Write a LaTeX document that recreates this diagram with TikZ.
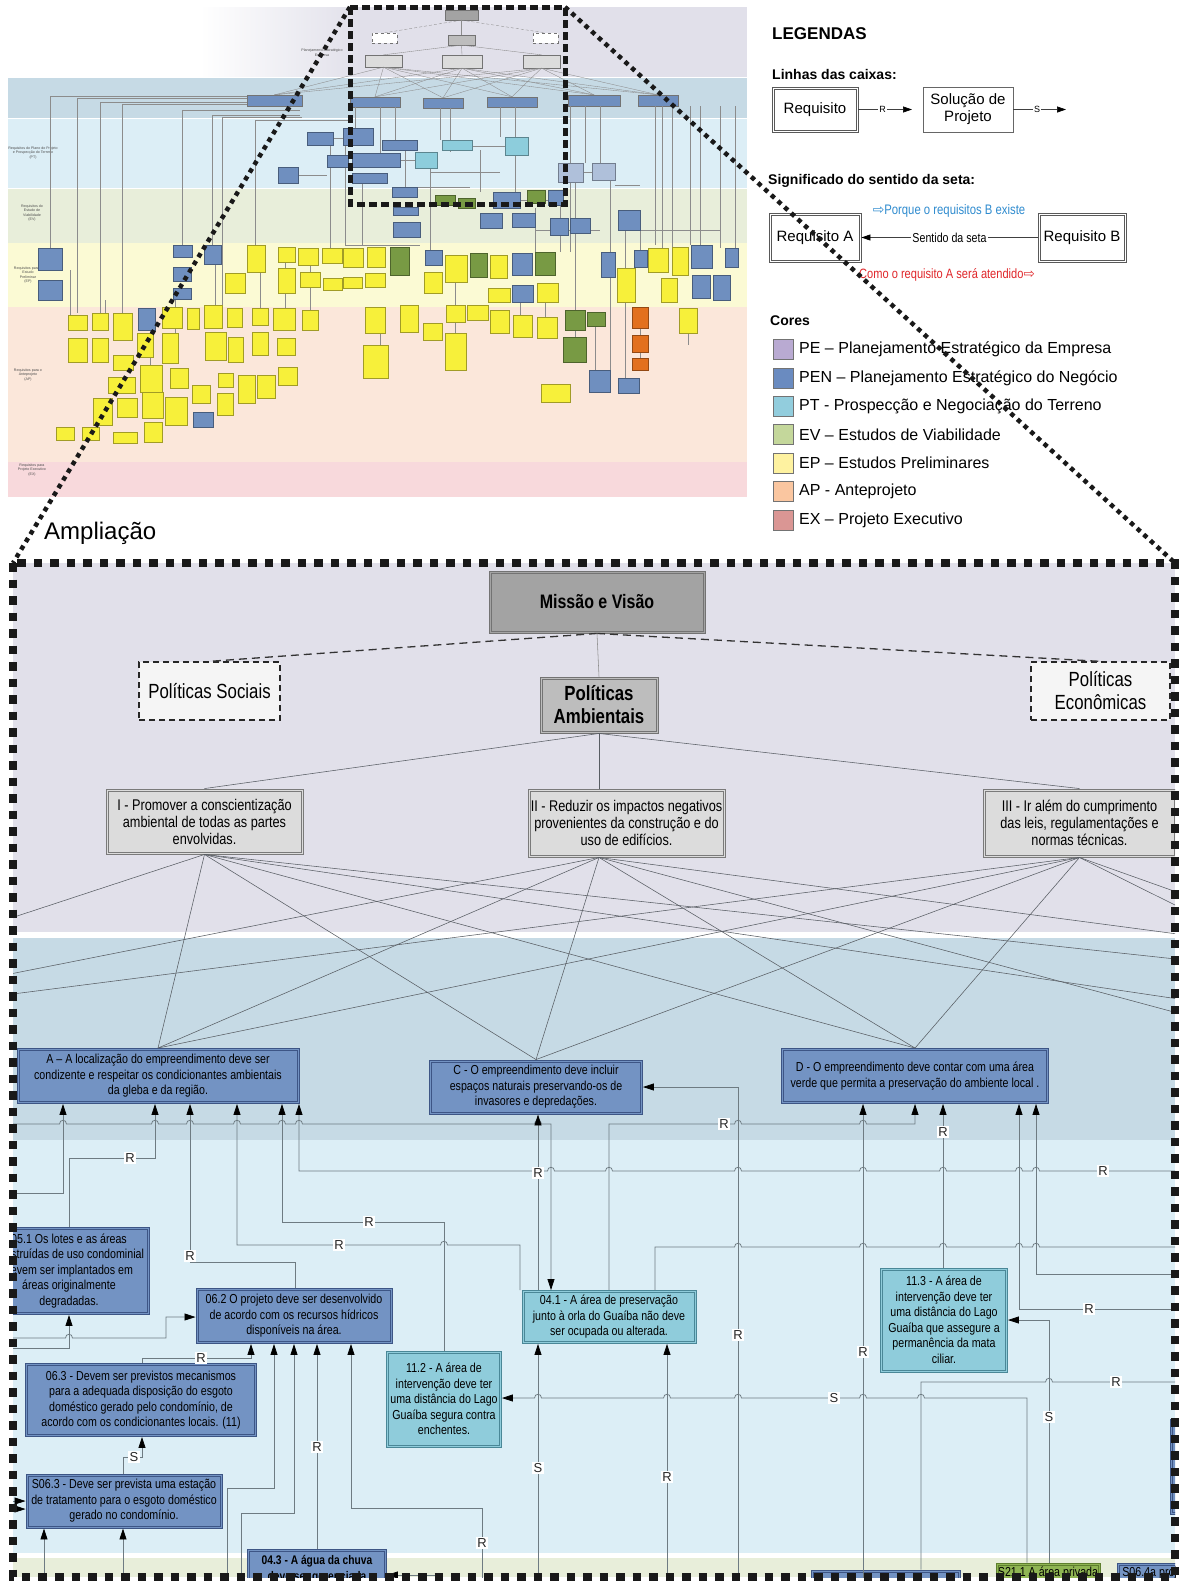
\documentclass[tikz,border=0pt]{standalone}
\usepackage{fontspec}
\setmainfont{Liberation Sans}
\newfontfamily\cnd[FakeStretch=0.82]{Liberation Sans}
\newfontfamily\symf{DejaVu Sans}
\usetikzlibrary{arrows.meta}

\definecolor{bandPE}{HTML}{E1E0EA}
\definecolor{bandPEN}{HTML}{C6DAE5}
\definecolor{bandPT}{HTML}{DCEEF6}
\definecolor{bandEV}{HTML}{E8EEDA}
\definecolor{bandEP}{HTML}{FBFAD4}
\definecolor{bandAP}{HTML}{FBE7DA}
\definecolor{bandEX}{HTML}{F8D9DC}
\definecolor{penfill}{HTML}{7393C3}
\definecolor{penline}{HTML}{3D5585}
\definecolor{ptfill}{HTML}{8FCCDB}
\definecolor{ptline}{HTML}{4A8797}
\definecolor{evfill}{HTML}{8FB553}
\definecolor{evline}{HTML}{5E7F2E}
\definecolor{objfill}{HTML}{DCDCDC}
\definecolor{objline}{HTML}{7A7A7A}
\definecolor{polfill}{HTML}{BDBDBD}
\definecolor{misfill}{HTML}{A3A3A3}
\definecolor{connc}{HTML}{6E7B82}
\definecolor{webc}{HTML}{585D63}
\definecolor{swPE}{HTML}{B9AAD2}
\definecolor{swPEN}{HTML}{6A8BC0}
\definecolor{swPT}{HTML}{92CDDD}
\definecolor{swEV}{HTML}{C4D79B}
\definecolor{swEP}{HTML}{FEF2A0}
\definecolor{swAP}{HTML}{FAC6A0}
\definecolor{swEX}{HTML}{DA9694}
\definecolor{tyel}{HTML}{F7F03A}
\definecolor{tblu}{HTML}{6F8FBF}
\definecolor{tgrn}{HTML}{789A44}
\definecolor{tora}{HTML}{E2701E}
\definecolor{tteal}{HTML}{8DCDDC}
\definecolor{tpale}{HTML}{AFC0DA}
\definecolor{whyc}{HTML}{2E8BCF}
\definecolor{howc}{HTML}{E0262A}

% small line jumps on horizontal connectors
\newcommand\hopR[2]{-- ({#1-3.5},#2) .. controls +(0,-5) and +(0,-5) .. ({#1+3.5},#2)}
\newcommand\hopL[2]{-- ({#1+3.5},#2) .. controls +(0,-5) and +(0,-5) .. ({#1-3.5},#2)}
% inner line of a double frame
\newcommand\innerframe[2]{\draw[#1,line width=0.7pt] ([xshift=2.4pt,yshift=-2.4pt]#2.north west) rectangle ([xshift=-2.4pt,yshift=2.4pt]#2.south east);}

\begin{document}
\begin{tikzpicture}[x=1pt,y=-1pt,
  boxbase/.style={align=center,inner sep=0pt,text=black,line width=0.9pt},
  penbox/.style={boxbase,fill=penfill,draw=penline,font=\cnd\fontsize{13}{15.5}\selectfont},
  ptbox/.style={boxbase,fill=ptfill,draw=ptline,font=\cnd\fontsize{13}{15.5}\selectfont},
  evbox/.style={boxbase,fill=evfill,draw=evline,font=\cnd\fontsize{13}{15.5}\selectfont},
  objbox/.style={boxbase,fill=objfill,draw=objline,font=\cnd\fontsize{15.5}{17}\selectfont},
  polbox/.style={boxbase,fill=polfill,draw=black!55,font=\cnd\bfseries\fontsize{20.5}{23}\selectfont},
  misbox/.style={boxbase,fill=misfill,draw=black!55,font=\cnd\bfseries\fontsize{19.5}{22}\selectfont},
  socbox/.style={align=center,inner sep=0pt,fill=black!4,draw=black!85,line width=1.3pt,dash pattern=on 6pt off 4pt,font=\cnd\fontsize{20.5}{23}\selectfont},
  webl/.style={draw=webc,line width=0.55pt},
  cn/.style={draw=connc,line width=0.75pt},
  ar/.style={cn,-{Triangle[length=11pt,width=7pt,color=black]}},
  lab/.style={fill=white,inner sep=1.2pt,font=\fontsize{13}{13}\selectfont,text=black!85},
  tn/.style={draw=black!55,line width=0.3pt,inner sep=0pt},
  tl/.style={draw=black!45,line width=0.35pt},
  tlab/.style={align=center,inner sep=0pt,text=black!70,font=\fontsize{3.6}{4.2}\selectfont},
  lgreq/.style={align=center,inner sep=0pt,fill=white,draw=black!65,line width=0.8pt,font=\fontsize{15}{17}\selectfont},
  lgsol/.style={align=center,inner sep=0pt,fill=white,draw=black!60,line width=0.8pt,font=\fontsize{15}{17}\selectfont},
  lgar/.style={draw=black!75,line width=0.7pt,-{Triangle[length=9pt,width=6pt,color=black]}},
  lgl/.style={fill=white,inner sep=0.8pt,font=\fontsize{9}{9}\selectfont},
  hd/.style={anchor=west,inner sep=0pt,font=\bfseries\fontsize{14}{14}\selectfont},
]
\useasboundingbox (0,0) rectangle (1187,1585);
\fill[white] (0,0) rectangle (1187,1585);

% ================= overview sheet =================
\fill[white] (8,7) rectangle (200,76.5);
\shade[left color=white,right color=bandPE] (200,7) rectangle (360,76.5);
\fill[bandPE] (360,7) rectangle (747,76.5);
\fill[bandPEN] (8,77.5) rectangle (747,118);
\fill[bandPT] (8,119) rectangle (747,187.5);
\fill[bandEV] (8,188.5) rectangle (747,243);
\fill[bandEP] (8,243) rectangle (747,307);
\fill[bandAP] (8,307) rectangle (747,462);
\fill[bandEX] (8,462) rectangle (747,497);

% phase names at the left of the sheet
\node[tlab] (tlPE) at (322,53) {Planejamento Estratégico\\Empresa};
\node[tlab] (tlPT) at (33,153) {Requisitos do Plano do Projeto\\e Prospecção do Terreno\\(PT)};
\node[tlab] (tlEV) at (32,213) {Requisitos do\\Estudo de\\Viabilidade\\(EV)};
\node[tlab] (tlEP) at (28,275) {Requisitos para o\\Estudo\\Preliminar\\(EP)};
\node[tlab] (tlAP) at (28,375) {Requisitos para o\\Anteprojeto\\(AP)};
\node[tlab] (tlEX) at (32,470) {Requisitos para\\Projeto Executivo\\(EX)};

% strategic tree of the sheet
\node[tn,fill=misfill,minimum width=33,minimum height=10] (tMis) at (461.5,15) {};
\node[tn,fill=white,dashed,minimum width=25,minimum height=10] (tSoc) at (384.5,38) {};
\node[tn,fill=polfill,minimum width=27,minimum height=10] (tAmb) at (461.5,40) {};
\node[tn,fill=white,dashed,minimum width=25,minimum height=10] (tEco) at (545.5,38) {};
\node[tn,fill=objfill,minimum width=37,minimum height=12] (tI) at (383.5,61) {};
\node[tn,fill=objfill,minimum width=40,minimum height=13] (tII) at (462,61.5) {};
\node[tn,fill=objfill,minimum width=37,minimum height=13] (tIII) at (541.5,61.5) {};
\node[tn,fill=tblu,minimum width=55,minimum height=11] (tG) at (274.5,100.5) {};
\node[tn,fill=tblu,minimum width=50,minimum height=10] (tA) at (375,102) {};
\node[tn,fill=tblu,minimum width=40,minimum height=10] (tC) at (443,103) {};
\node[tn,fill=tblu,minimum width=50,minimum height=10] (tD) at (512,102) {};
\node[tn,fill=tblu,minimum width=52,minimum height=11] (tE) at (594,100.5) {};
\node[tn,fill=tblu,minimum width=40,minimum height=11] (tF) at (658,100.5) {};
\draw[tl,densely dashed] (tMis.south) -- (tSoc.north);
\draw[tl,densely dashed] (tMis.south) -- (tEco.north);
\draw[tl] (tMis.south) -- (tAmb.north);
\foreach \t in {tI,tII,tIII} \draw[tl] (tAmb.south) -- (\t.north);
\foreach \s in {tI,tII,tIII} \foreach \t in {tG,tA,tC,tD,tE,tF} \draw[tl] (\s.south) -- (\t.north);

% connectors of the sheet
\foreach \x/\ya/\yb in {50/96/248,77/98/313,100/103/313,122/105/313,182/110/245,212/115/245,222/117/305,255/120/245,
  355/107/128,380/107/153,395/107/140,440/108/140,450/108/152,500/107/137,515/107/192,570/106/252,585/106/163,
  600/106/163,655/106/245,662/106/250,672/106/247,690/106/245,700/106/245,720/106/248,735/106/248,
  330/145/248,345/145/245,362/183/245,405/150/187,430/168/250,480/150/192,535/208/255,560/205/252,
  575/182/317,610/180/370,625/230/378,640/230/252,70/270/315,105/300/313,150/330/365,175/300/333,
  215/264/305,260/272/308,285/262/308,310/265/310,380/333/345,455/282/333,520/302/315,545/302/317,
  575/330/337,595/326/370,640/328/335,640/352/358,688/333/345}
  \draw[tl] (\x,\ya) -- (\x,\yb);
\foreach \xa/\xb/\y in {50/247/96,77/247/98,100/247/102,122/247/104,182/300/110,212/300/115,222/302/117,255/350/120,
  333/343/138,298/327/175,400/415/160,472/505/146,520/548/200,583/592/172,615/640/185,535/600/230,
  405/470/187,430/500/172,640/720/230,345/420/245}
  \draw[tl] (\xa,\y) -- (\xb,\y);

% requirement boxes of the sheet
\foreach \a/\b/\c/\d/\f in {
 307/132/333/145/tblu,343/128/373/145/tblu,278/167/298/183/tblu,327/155/348/167/tblu,352/153/400/167/tblu,
 352/173/387/183/tblu,382/140/417/150/tblu,415/152/437/168/tteal,442/140/472/150/tteal,505/137/528/155/tteal,
 558/163/583/182/tpale,592/163/615/180/tpale,
 392/187/417/197/tblu,393/207/418/215/tblu,393/222/420/237/tblu,435/195/455/205/tgrn,458/198/475/208/tgrn,
 493/192/520/208/tblu,527/190/545/203/tgrn,548/190/563/205/tblu,480/213/502/228/tblu,512/213/535/227/tblu,
 550/218/568/235/tblu,570/218/590/233/tblu,618/210/640/230/tblu,
 38/248/62/270/tblu,38/280/62/300/tblu,173/245/192/257/tblu,204/245/221/264/tblu,173/267/191/281/tblu,
 173/288/191/299/tblu,247/245/265/272/tyel,278/247/295/262/tyel,298/248/318/265/tyel,322/248/342/263/tyel,
 343/248/363/267/tyel,367/247/385/267/tyel,390/247/409/275/tgrn,225/273/245/293/tyel,278/268/295/293/tyel,
 300/272/320/287/tyel,323/278/342/290/tyel,343/277/362/288/tyel,365/273/385/287/tyel,
 425/250/442/265/tblu,424/272/442/293/tyel,445/255/467/282/tyel,470/253/487/277/tgrn,490/255/507/278/tyel,
 512/253/532/275/tblu,535/252/555/275/tgrn,488/288/510/302/tyel,512/285/533/302/tblu,537/283/558/302/tyel,
 601/252/615/277/tblu,617/268/635/302/tyel,634/250/647/267/tblu,648/248/668/272/tyel,661/278/677/302/tyel,
 672/247/688/275/tyel,691/245/712/268/tblu,692/275/710/298/tblu,713/275/730/300/tblu,725/248/738/267/tblu,
 68/315/87/330/tyel,92/313/108/330/tyel,113/313/132/340/tyel,138/308/155/330/tblu,162/307/182/328/tyel,
 187/308/199/329/tyel,204/305/222/328/tyel,227/308/242/327/tyel,252/308/268/325/tyel,273/308/295/330/tyel,
 302/310/318/330/tyel,365/307/385/333/tyel,68/338/87/362/tyel,92/338/108/362/tyel,113/355/133/370/tyel,
 137/333/153/357/tyel,162/333/178/363/tyel,205/332/226/360/tyel,228/337/243/362/tyel,252/332/268/355/tyel,
 277/338/295/355/tyel,363/345/388/378/tyel,108/377/135/393/tyel,140/365/162/392/tyel,170/368/188/388/tyel,
 192/385/210/403/tyel,218/373/233/387/tyel,238/375/255/403/tyel,257/375/275/398/tyel,278/367/297/385/tyel,
 93/398/112/425/tyel,117/398/137/417/tyel,142/392/163/418/tyel,165/397/187/425/tyel,217/393/233/415/tyel,
 193/412/213/427/tblu,56/427/74/440/tyel,82/427/99/440/tyel,113/432/137/443/tyel,144/422/162/442/tyel,
 400/305/418/332/tyel,423/323/442/340/tyel,446/305/465/322/tyel,467/305/488/320/tyel,490/310/509/333/tyel,
 513/315/532/337/tyel,537/317/557/338/tyel,565/310/585/330/tgrn,587/312/605/326/tgrn,632/307/648/328/tora,
 632/335/648/352/tora,632/358/648/370/tora,679/308/697/333/tyel,445/333/466/370/tyel,563/337/586/362/tgrn,
 589/370/610/392/tblu,618/378/639/393/tblu,541/384/570/402/tyel}
 \filldraw[fill=\f,draw=\f!65!black,line width=0.3pt] (\a,\b) rectangle (\c,\d);

% ================= legend =================
\node[anchor=west,inner sep=0pt,font=\bfseries\fontsize{17}{17}\selectfont] (legT) at (772,34) {LEGENDAS};
\node[hd] (legL) at (772,74) {Linhas das caixas:};
\node[lgreq,minimum width=86,minimum height=45] (lgReq) at (815,109.5) {Requisito};
\innerframe{black!65}{lgReq}
\node[lgsol,minimum width=90,minimum height=45] (lgSol) at (968,109.5) {Solução de\\Projeto};
\coordinate (lgRend) at (912,109.5);
\coordinate (lgSend) at (1066,109.5);
\draw[lgar] (lgReq.east) -- (lgRend) node[pos=0.45,lgl] (lgR) {R};
\draw[lgar] (lgSol.east) -- (lgSend) node[pos=0.45,lgl] (lgS) {S};
\node[hd] (legS) at (768,181) {Significado do sentido da seta:};
\node[lgreq,minimum width=92,minimum height=49] (rqA) at (815,237.5) {Requisito A};
\innerframe{black!65}{rqA}
\node[lgreq,minimum width=88,minimum height=49] (rqB) at (1082,237.5) {Requisito B};
\innerframe{black!65}{rqB}
\draw[lgar] (rqB.west) -- (rqA.east) node[midway,fill=white,inner sep=1pt,font=\cnd\fontsize{13}{13}\selectfont] (lgDir) {Sentido da seta};
\node[inner sep=0pt,text=whyc,font=\cnd\fontsize{13.8}{13.8}\selectfont] (lgWhy) at (949,211) {{\symf ⇨}Porque o requisitos B existe};
\node[inner sep=0pt,text=howc,font=\cnd\fontsize{13.5}{13.5}\selectfont] (lgHow) at (947,275) {Como o requisito A será atendido{\symf ⇨}};
\node[hd] (legC) at (770,321) {Cores};
\foreach \c/\t [count=\i from 0] in {swPE/PE – Planejamento Estratégico da Empresa,
  swPEN/PEN – Planejamento Estratégico do Negócio,
  swPT/PT - Prospecção e Negociação do Terreno,
  swEV/EV – Estudos de Viabilidade,
  swEP/EP – Estudos Preliminares,
  swAP/AP - Anteprojeto,
  swEX/EX – Projeto Executivo} {
  \node[draw=black!55,line width=0.6pt,fill=\c,minimum size=20,inner sep=0pt] (sw\i) at (783,349.5+28.4*\i) {};
  \node[anchor=west,inner sep=0pt,font=\fontsize{16}{16}\selectfont] (swt\i) at (799,349.5+28.4*\i) {\t};
}

% ================= enlarged part =================
\node[anchor=west,inner sep=0pt,font=\fontsize{24}{24}\selectfont] (ampl) at (44,533) {Ampliação};

\begin{scope}
\clip (13,563) rectangle (1175,1577);
\fill[bandPE] (13,563) rectangle (1175,932);
\fill[bandPEN] (13,938) rectangle (1175,1140);
\fill[bandPT] (13,1140) rectangle (1175,1553);
\fill[bandEV] (13,1558) rectangle (1175,1577);

% strategy level
\node[misbox,minimum width=216,minimum height=62] (mis) at (597,602) {Missão e Visão};
\node[socbox,minimum width=141,minimum height=58] (soc) at (209.5,691) {Políticas Sociais};
\node[socbox,minimum width=139,minimum height=58] (eco) at (1100.5,691) {Políticas\\Econômicas};
\node[polbox,minimum width=118,minimum height=56] (amb) at (599,705) {Políticas\\Ambientais};
\node[objbox,minimum width=197,minimum height=65] (oI) at (204.5,821.5) {I - Promover a conscientização\\ambiental de todas as partes\\envolvidas.};
\node[objbox,minimum width=197,minimum height=68] (oII) at (626.5,823) {II - Reduzir os impactos negativos\\provenientes da construção e do\\uso de edifícios.};
\node[objbox,minimum width=193,minimum height=68] (oIII) at (1079.5,823) {III - Ir além do cumprimento\\das leis, regulamentações e\\normas técnicas.};
\innerframe{black!55}{mis}
\innerframe{black!55}{amb}
\foreach \n in {oI,oII,oIII} {\innerframe{objline}{\n}}

\coordinate (iiTop) at (amb.south |- oII.north);
\coordinate (iiBot) at (amb.south |- oII.south);
\draw[black!80,line width=1.3pt,dash pattern=on 8pt off 5pt] (mis.south) -- (soc.north);
\draw[black!80,line width=1.3pt,dash pattern=on 8pt off 5pt] (mis.south) -- (eco.north);
\draw[webl,draw=black!45] (mis.south) -- (amb.north);
\draw[webl] (amb.south) -- (oI.north);
\draw[webl] (amb.south) -- (iiTop);
\draw[webl] (amb.south) -- (oIII.north);

% business level
\node[penbox,minimum width=282,minimum height=55] (A) at (158,1076) {A –  A localização do empreendimento deve ser\\condizente  e respeitar os condicionantes ambientais\\da gleba e da região.};
\node[penbox,minimum width=213,minimum height=54] (C) at (536,1087) {C - O empreendimento deve incluir\\espaços naturais preservando-os de\\invasores e depredações.};
\node[penbox,minimum width=267,minimum height=55] (D) at (915,1076) {D - O empreendimento deve contar com uma área\\verde que permita a preservação do ambiente local .};

\coordinate (wL1) at (5,920);
\coordinate (wL2) at (5,975);
\coordinate (wL3) at (5,995);
\coordinate (wR1) at (1185,960);
\coordinate (wR2) at (1185,1000);
\coordinate (wR3) at (1185,935);
\coordinate (wR4) at (1185,1015);
\coordinate (wR5) at (1185,895);
\coordinate (wR6) at (1185,910);
\foreach \t in {A,C,D} {
  \draw[webl] (oI.south) -- (\t.north);
  \draw[webl] (iiBot) -- (\t.north);
  \draw[webl] (oIII.south) -- (\t.north);
}
\draw[webl] (oI.south) -- (wL1);
\draw[webl] (oI.south) -- (wR1);
\draw[webl] (oI.south) -- (wR2);
\draw[webl] (iiBot) -- (wL2);
\draw[webl] (iiBot) -- (wR3);
\draw[webl] (iiBot) -- (wR4);
\draw[webl] (oIII.south) -- (wL3);
\draw[webl] (oIII.south) -- (wR5);
\draw[webl] (oIII.south) -- (wR6);

% project level
\node[penbox,minimum width=161,minimum height=87] (o51) at (69,1271) {05.1 Os lotes e as áreas\\construídas de uso condominial\\devem ser implantados em\\áreas originalmente\\degradadas.};
\node[penbox,minimum width=196,minimum height=55] (o62) at (294,1316) {06.2 O projeto deve ser desenvolvido\\de acordo com os recursos hídricos\\disponíveis na área.};
\node[penbox,minimum width=231,minimum height=73] (o63) at (141,1400) {06.3 -  Devem ser previstos mecanismos\\para a adequada disposição do esgoto\\doméstico gerado pelo condomínio, de\\acordo com os condicionantes locais. (11)};
\node[penbox,minimum width=196,minimum height=54] (s63) at (124,1501) {S06.3 -  Deve ser prevista uma estação\\de tratamento para o esgoto doméstico\\gerado no condomínio.};
\node[ptbox,minimum width=115,minimum height=96] (o112) at (444,1399) {11.2 - A área de\\intervenção deve ter\\uma distância do Lago\\Guaíba segura contra\\enchentes.};
\node[ptbox,minimum width=174,minimum height=53] (o41) at (609,1317) {04.1 - A área de preservação\\junto à orla do Guaíba não deve\\ser ocupada ou alterada.};
\node[ptbox,minimum width=127,minimum height=104] (o113) at (944,1320) {11.3 - A área de\\intervenção deve ter\\uma distância do Lago\\Guaíba que assegure a\\permanência da mata\\ciliar.};
\node[penbox,font=\cnd\bfseries\fontsize{12.5}{15.5}\selectfont,minimum width=139,minimum height=40] (o43) at (317,1569) {04.3 -  A água da chuva\\deve ser gerenciada};
\node[penbox,minimum width=149,minimum height=40] (b1) at (886,1590) {};
\node[evbox,minimum width=104,minimum height=20] (s211) at (1048,1573) {S21.1 A área privada};
\node[penbox,minimum width=80,minimum height=20] (s064) at (1157,1573) {S06.4a projeto};
\node[penbox,minimum width=40,minimum height=95] (rbx) at (1190,1467) {};
\foreach \n in {A,C,D,o51,o62,o63,s63,o43,b1,s064,rbx} {\innerframe{penline}{\n}}
\foreach \n in {o112,o41,o113} {\innerframe{ptline}{\n}}
\innerframe{evline}{s211}

% requirement links
\draw[ar] (5,1124) \hopR{63}{1124}\hopR{155}{1124}\hopR{190}{1124}\hopR{237}{1124}\hopR{282}{1124}\hopR{299}{1124}\hopR{538}{1124} -- (551,1124) -- (551,0 |- o41.north);
\draw[ar] (520,0 |- o41.north) -- (520,1245) \hopL{444}{1245} -- (237,1245) -- (237,0 |- A.south);
\draw[ar] (444,0 |- o112.north) -- (444,1222) -- (282,1222) -- (282,0 |- A.south);
\draw[ar] (1185,1171) \hopL{1036}{1171}\hopL{1019}{1171}\hopL{943}{1171}\hopL{863}{1171}\hopL{738}{1171}\hopL{609}{1171}\hopL{551}{1171}\hopL{538}{1171} -- (299,1171) -- (299,0 |- A.south);
\draw[ar] (69,0 |- o51.north) -- (69,1158) -- (155,1158) -- (155,0 |- A.south);
\draw[ar] (5,1193) -- (63,1193) -- (63,0 |- A.south);
\draw[ar] (295,0 |- o62.north) -- (295,1262) -- (190,1262) -- (190,0 |- A.south);
\draw[ar] (538,0 |- o41.north) -- (538,0 |- C.south);
\draw[ar] (738,1585) -- (738,1087) -- (C.east |- 0,1087);
\draw[ar] (609,0 |- o41.north) -- (609,1124) \hopR{738}{1124}\hopR{863}{1124} -- (915,1124) -- (915,0 |- D.south);
\draw[cn] (655,0 |- o41.north) -- (655,1247) \hopR{738}{1247}\hopR{863}{1247}\hopR{943}{1247}\hopR{1019}{1247}\hopR{1036}{1247} -- (1185,1247);
\draw[ar] (863,1585) -- (863,0 |- D.south);
\draw[ar] (943,0 |- o113.north) -- (943,0 |- D.south);
\draw[ar] (1185,1309) -- (1019,1309) -- (1019,0 |- D.south);
\draw[ar] (1185,1274) -- (1036,1274) -- (1036,0 |- D.south);
\draw[ar] (5,1338) \hopR{69}{1338} -- (166,1338) -- (166,1317) -- (o62.west |- 0,1317);
\draw[ar] (5,1348) -- (69,1348) -- (69,0 |- o51.south);
\draw[ar] (142,0 |- o63.north) -- (142,1358) -- (251,1358) -- (251,0 |- o62.south);
\draw[ar] (123,0 |- s63.north) -- (123,1457) -- (142,1457) -- (142,0 |- o63.south);
\draw[ar] (227,1585) -- (227,1488) -- (274,1488) -- (274,0 |- o62.south);
\draw[ar] (241,1585) -- (241,1513) -- (294,1513) -- (294,0 |- o62.south);
\draw[ar] (317,0 |- o43.north) -- (317,0 |- o62.south);
\draw[ar] (482,1585) -- (482,1508) -- (351,1508) -- (351,0 |- o62.south);
\draw[ar] (44,1585) -- (44,0 |- s63.south);
\draw[ar] (123,1585) -- (123,0 |- s63.south);
\draw[ar] (0,1501) -- (s63.west |- 0,1501);
\draw[ar] (0,1509) -- (s63.west |- 0,1509);
\draw[ar] (1027,0 |- s211.north) -- (1027,1398) \hopL{921}{1398}\hopL{863}{1398}\hopL{738}{1398}\hopL{667}{1398}\hopL{538}{1398} -- (o112.east |- 0,1398);
\draw[ar] (538,1585) -- (538,0 |- o41.south);
\draw[ar] (667,1585) -- (667,0 |- o41.south);
\draw[cn] (921,0 |- b1.north) -- (921,1382) \hopR{1049}{1382} -- (1185,1382);
\draw[ar] (1049,0 |- s211.north) -- (1049,1320) -- (o113.east |- 0,1320);
\draw[ar] (440,1575) -- (o43.east |- 0,1575);

% link labels
\foreach \p/\q/\t [count=\k] in {339/1245/R,369/1222/R,1103/1171/R,130/1158/R,190/1256/R,538/1173/R,
  738/1335/R,724/1124/R,863/1352/R,943/1132/R,1089/1309/R,201/1358/R,134/1457/S,317/1447/R,
  482/1543/R,834/1398/S,538/1468/S,667/1477/R,1116/1382/R,1049/1417/S}
  \node[lab] (lk\k) at (\p,\q) {\t};
\end{scope}

% ================= frames and zoom guides =================
\coordinate (ovTL) at (350,7);
\coordinate (ovTR) at (565,7);
\coordinate (ovBR) at (565,204);
\coordinate (bgTL) at (13,563);
\coordinate (bgTR) at (1175,563);
\coordinate (bgBR) at (1175,1577);
\draw[black!90,line width=5pt,dash pattern=on 8pt off 4pt] (ovTL) rectangle (ovBR);
\draw[black!90,line width=7.5pt,dash pattern=on 8.5pt off 8pt] (bgTL) rectangle (bgBR);
\draw[black!90,line width=4.5pt,dash pattern=on 4.5pt off 4.5pt] (ovTL) -- (bgTL);
\draw[black!90,line width=4.5pt,dash pattern=on 4.5pt off 4.5pt] (ovTR) -- (bgTR);
\end{tikzpicture}
\end{document}
